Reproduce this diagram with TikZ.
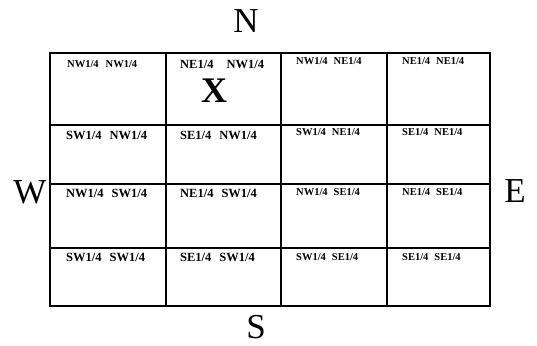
\documentclass[tikz,border=0pt]{standalone}
\usepackage{fontspec}
\setmainfont{Liberation Serif}
\begin{document}
\begin{tikzpicture}[x=1pt,y=-1pt,
  gridline/.style={line width=2.3pt},
  compass/.style={font=\fontsize{35}{40}\selectfont, inner sep=0pt, anchor=base},
  biglbl/.style={font=\fontsize{12.5}{14}\selectfont\bfseries, inner sep=0pt, anchor=base west},
  smalllbl/.style={font=\fontsize{10.5}{12}\selectfont\bfseries, inner sep=0pt, anchor=base west}]
\useasboundingbox (0,0) rectangle (537,345);
% grid
\foreach \x in {50,166,281,387,490} \draw[gridline] (\x,53) -- (\x,306);
\foreach \y in {53,125,184,248,306} \draw[gridline] (49,\y) -- (491,\y);
% compass
\node[compass] (n) at (246,33) {N};
\node[compass] (s) at (256,338) {S};
\node[compass] (w) at (30,203) {W};
\node[compass] (e) at (515,202) {E};
% row 1
\node[smalllbl] (a11) at (67,67) {NW1/4\hspace{7pt}NW1/4};
\node[biglbl] (a12) at (180,68) {NE1/4\hspace{13pt}NW1/4};
\node[smalllbl] (a13) at (296,64) {NW1/4\hspace{6pt}NE1/4};
\node[smalllbl] (a14) at (402,64) {NE1/4\hspace{6pt}NE1/4};
\node[font=\fontsize{36}{40}\selectfont\bfseries, inner sep=0pt, anchor=base] (x) at (214,102) {X};
% row 2
\node[biglbl] (a21) at (66,139) {SW1/4\hspace{8pt}NW1/4};
\node[biglbl] (a22) at (180,139) {SE1/4\hspace{8pt}NW1/4};
\node[smalllbl] (a23) at (296,135) {SW1/4\hspace{6pt}NE1/4};
\node[smalllbl] (a24) at (402,135) {SE1/4\hspace{6pt}NE1/4};
% row 3
\node[biglbl] (a31) at (66,197) {NW1/4\hspace{8pt}SW1/4};
\node[biglbl] (a32) at (180,197) {NE1/4\hspace{8pt}SW1/4};
\node[smalllbl] (a33) at (296,195) {NW1/4\hspace{6pt}SE1/4};
\node[smalllbl] (a34) at (402,195) {NE1/4\hspace{6pt}SE1/4};
% row 4
\node[biglbl] (a41) at (66,261) {SW1/4\hspace{8pt}SW1/4};
\node[biglbl] (a42) at (180,261) {SE1/4\hspace{8pt}SW1/4};
\node[smalllbl] (a43) at (296,260) {SW1/4\hspace{6pt}SE1/4};
\node[smalllbl] (a44) at (402,260) {SE1/4\hspace{6pt}SE1/4};
\end{tikzpicture}
\end{document}
